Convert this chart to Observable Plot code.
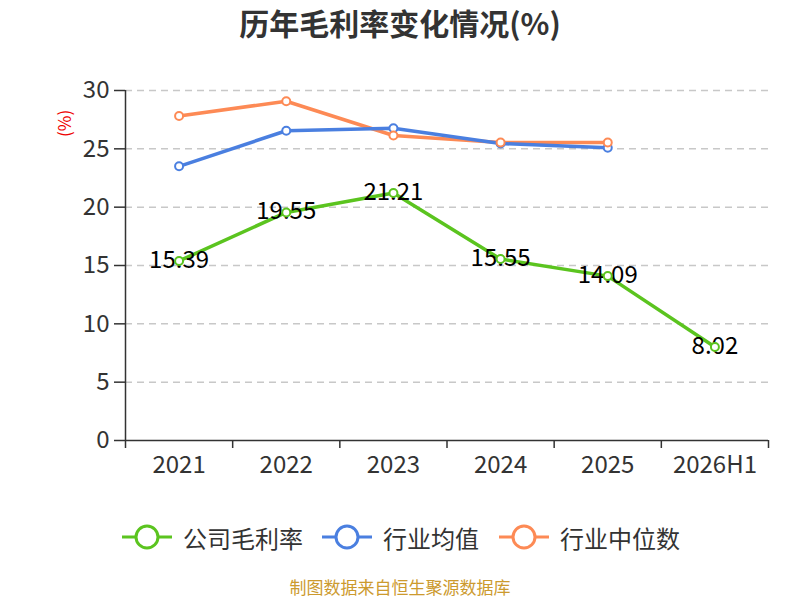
<!DOCTYPE html>
<html>
<head>
<meta charset="utf-8">
<script src="https://cdn.jsdelivr.net/npm/d3@7"></script>
<script src="https://cdn.jsdelivr.net/npm/@observablehq/plot@0.6"></script>
<style>
  body { margin: 0; background: #fff; font-family: "Noto Sans CJK SC", "Noto Sans", sans-serif; }
  #wrap { position: relative; width: 800px; height: 600px; overflow: hidden; }
  #title { position: absolute; left: 0; top: 2px; width: 800px; text-align: center; font-size: 30px; font-weight: bold; color: #333; line-height: 40px; }
  #chart { position: absolute; left: 0; top: 50px; }
  #unit { position: absolute; left: 51px; top: 114px; color: #e00; font-size: 17px; transform: rotate(-90deg); transform-origin: center; width: 26px; text-align: center; line-height: 20px; }
  .leg { position: absolute; top: 522px; height: 30px; display: flex; align-items: center; font-size: 24px; color: #333; }
  #source { position: absolute; left: 0; top: 577px; width: 800px; text-align: center; font-size: 17px; color: #cc9a2e; line-height: 20px; }
</style>
</head>
<body>
<div id="wrap">
  <div id="title">历年毛利率变化情况(%)</div>
  <div id="unit">(%)</div>
  <div id="chart"></div>
  <div id="legend"></div>
  <div id="source">制图数据来自恒生聚源数据库</div>
</div>
<script>
const categories = ["2021", "2022", "2023", "2024", "2025", "2026H1"];
const companyMargin = [15.39, 19.55, 21.21, 15.55, 14.09, 8.02];
const industryMean = [23.5, 26.55, 26.77, 25.45, 25.1];
const industryMedian = [27.82, 29.08, 26.14, 25.55, 25.55];
const yTicks = [0, 5, 10, 15, 20, 25, 30];
const seriesNames = ["公司毛利率", "行业均值", "行业中位数"];
const seriesColors = ["#5bc41f", "#4a7fe0", "#fd8a55"];

const comp = companyMargin.map((v, i) => ({i, v}));
const mean = industryMean.map((v, i) => ({i, v}));
const med = industryMedian.map((v, i) => ({i, v}));
const bounds = d3.range(categories.length + 1).map(k => k - 0.5);

const plot = Plot.plot({
  width: 800,
  height: 450,
  marginLeft: 125,
  marginRight: 32,
  marginTop: 40,
  marginBottom: 60,
  style: {fontFamily: '"Noto Sans CJK SC", "Noto Sans", sans-serif', background: "transparent"},
  x: {type: "linear", domain: [-0.5, categories.length - 0.5]},
  y: {domain: [0, 30]},
  marks: [
    Plot.ruleY(yTicks.filter(d => d > 0), {stroke: "#c8c8c8", strokeWidth: 1.5, strokeDasharray: "7,5"}),
    Plot.axisY({ticks: yTicks, tickSize: 11, tickPadding: 5, fontSize: 24, color: "#333", stroke: "#333", strokeWidth: 1.5, label: null}),
    Plot.axisX({ticks: bounds, tickSize: 8, tickFormat: () => "", stroke: "#333", strokeWidth: 1.5, label: null}),
    Plot.axisX({ticks: d3.range(categories.length), tickSize: 0, tickPadding: 15, tickFormat: i => categories[i], fontSize: 24, color: "#333", label: null}),
    Plot.ruleX([-0.5], {stroke: "#333", strokeWidth: 1.5}),
    Plot.ruleY([0], {stroke: "#333", strokeWidth: 1.5}),
    Plot.line(med, {x: "i", y: "v", stroke: seriesColors[2], strokeWidth: 3.5}),
    Plot.line(mean, {x: "i", y: "v", stroke: seriesColors[1], strokeWidth: 3.5}),
    Plot.line(comp, {x: "i", y: "v", stroke: seriesColors[0], strokeWidth: 3.5}),
    Plot.dot(mean, {x: "i", y: "v", r: 4, fill: "#fff", stroke: seriesColors[1], strokeWidth: 2}),
    Plot.dot(med, {x: "i", y: "v", r: 4, fill: "#fff", stroke: seriesColors[2], strokeWidth: 2}),
    Plot.text(comp, {x: "i", y: "v", text: d => d.v.toFixed(2), fontSize: 24, fill: "#000", dy: -1}),
    Plot.dot(comp, {x: "i", y: "v", r: 4, fill: "#fff", stroke: seriesColors[0], strokeWidth: 2})
  ]
});
document.getElementById("chart").appendChild(plot);

// legend
const legendLefts = [122, 322, 499];
const legend = document.getElementById("legend");
seriesNames.forEach((name, k) => {
  const item = document.createElement("div");
  item.className = "leg";
  item.style.left = legendLefts[k] + "px";
  const c = seriesColors[k];
  item.innerHTML = `<svg width="50" height="30" style="margin-right:11px"><line x1="0" y1="15" x2="50" y2="15" stroke="${c}" stroke-width="3"/><circle cx="25" cy="15" r="11" fill="#fff" stroke="${c}" stroke-width="3"/></svg><span>${name}</span>`;
  legend.appendChild(item);
});
</script>
</body>
</html>
